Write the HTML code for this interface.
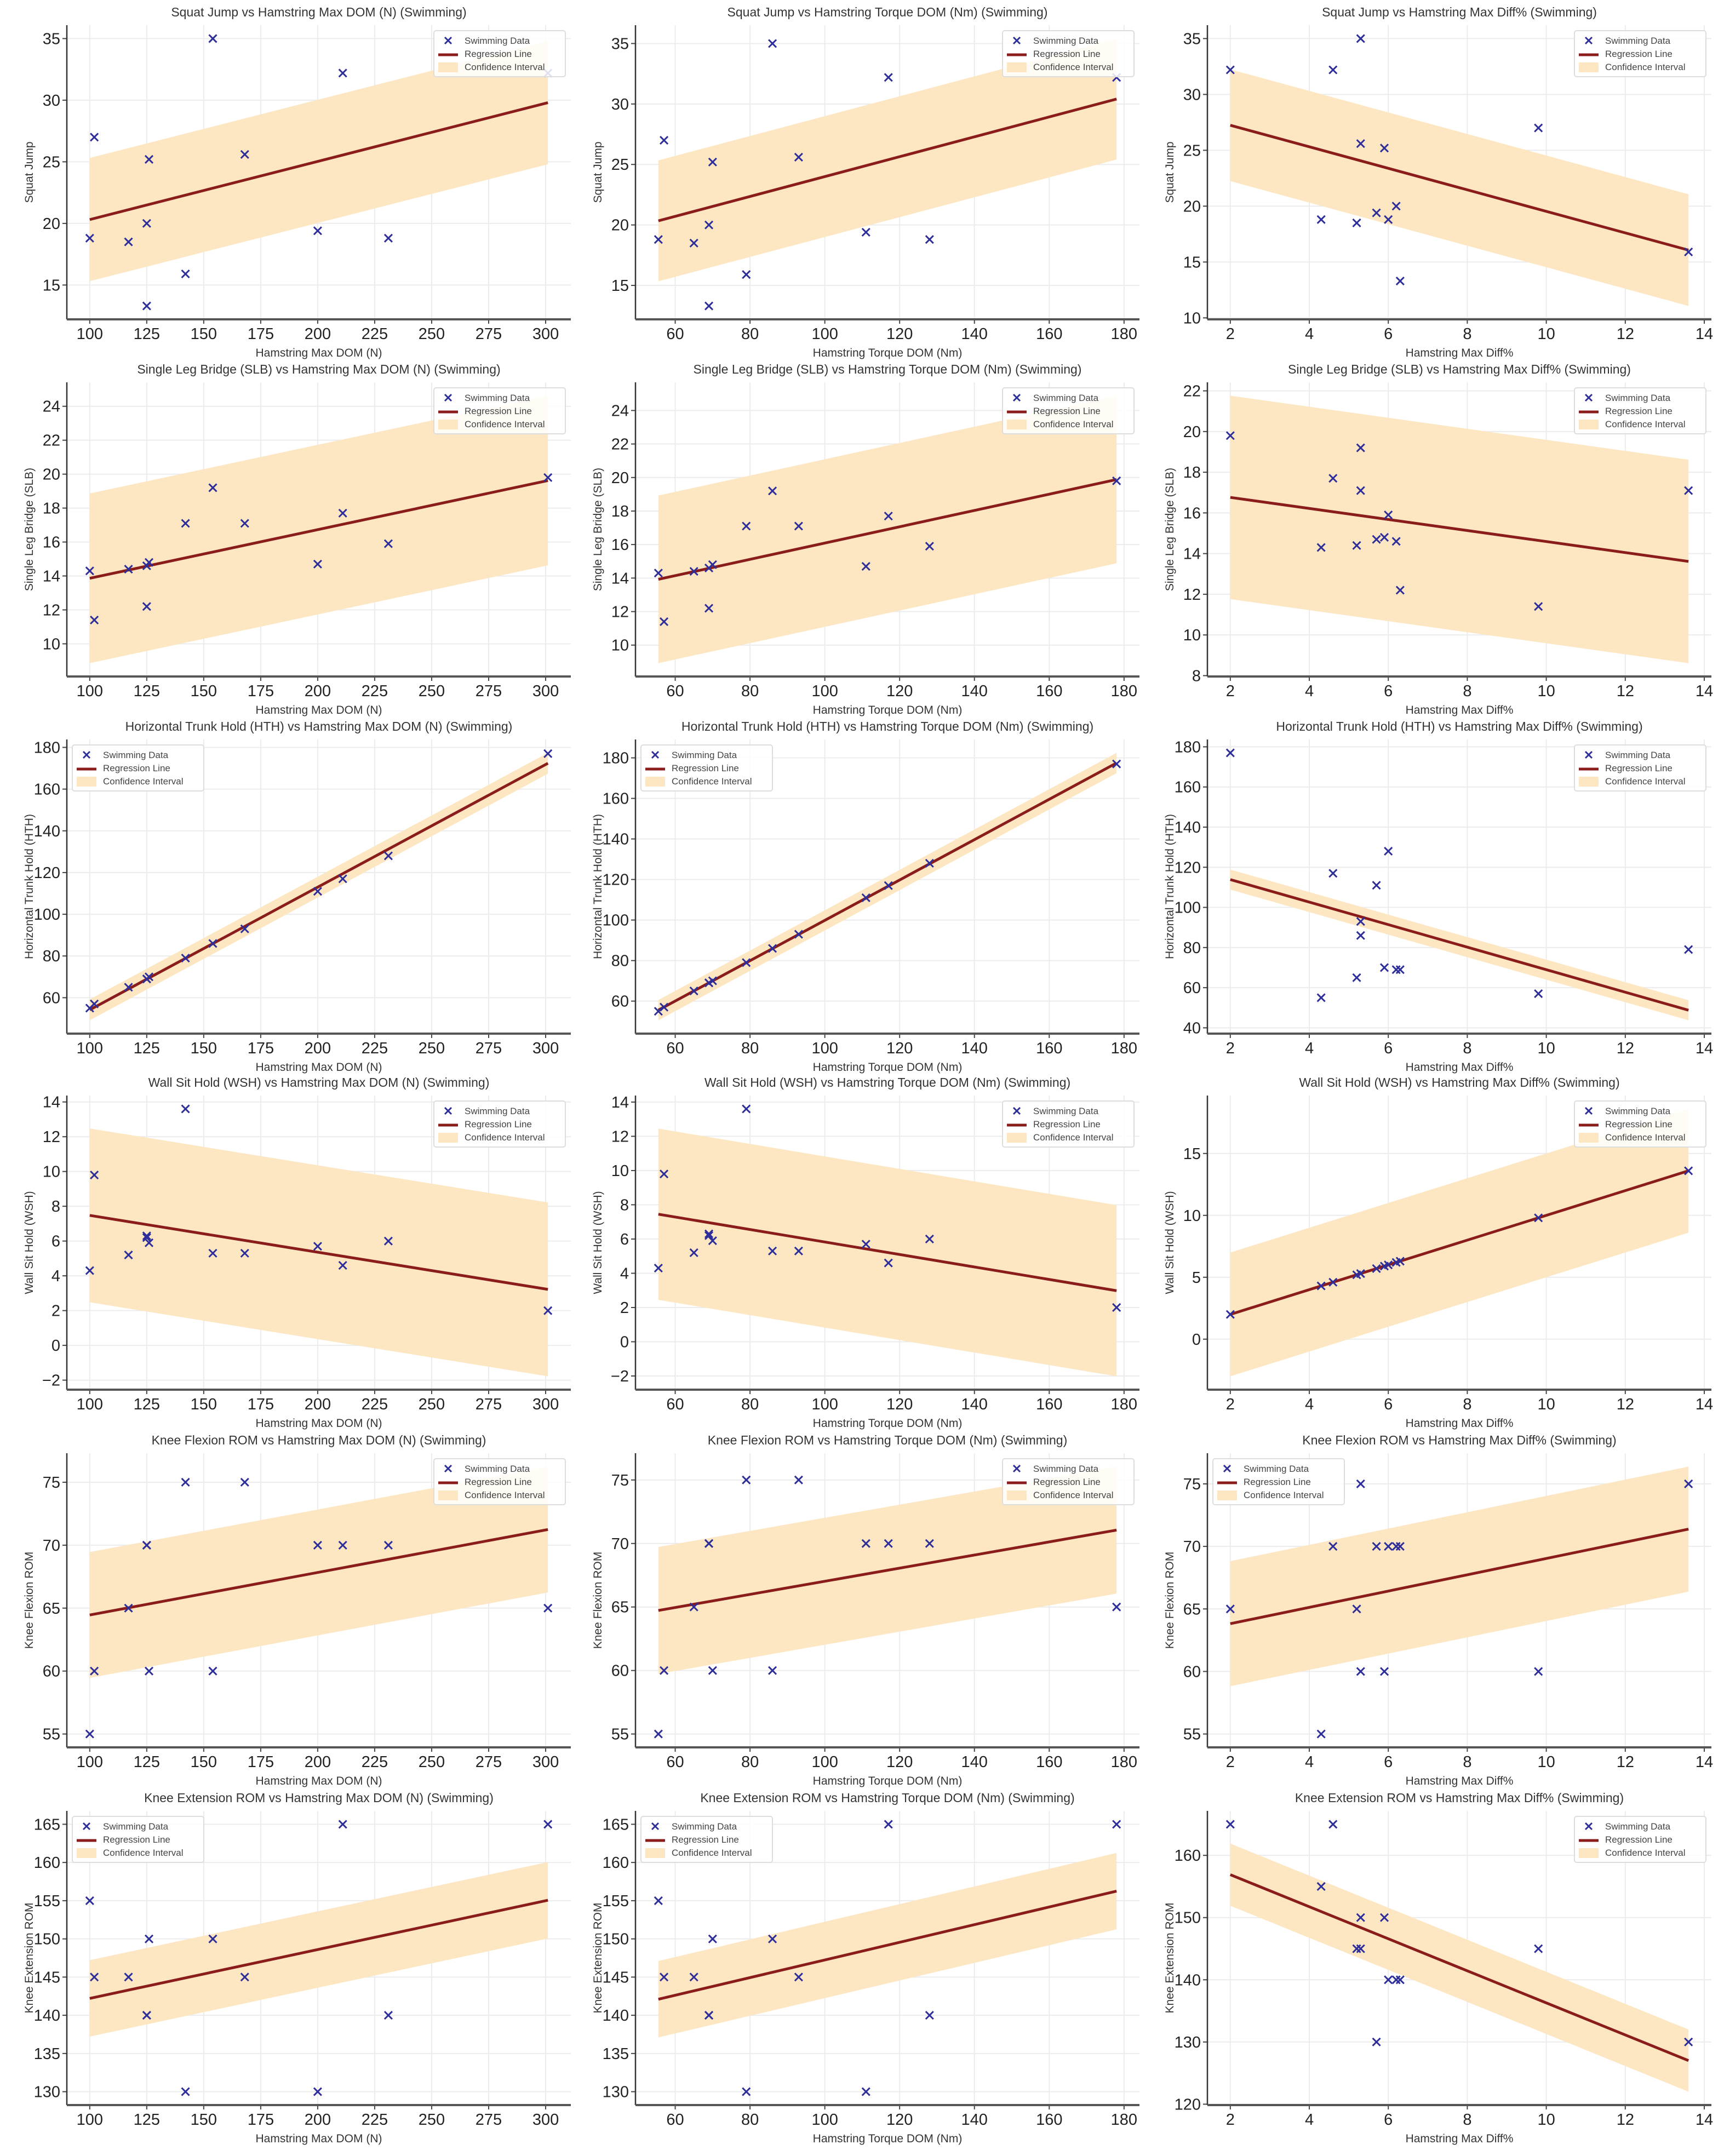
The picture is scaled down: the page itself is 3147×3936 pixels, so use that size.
<!DOCTYPE html>
<html><head><meta charset="utf-8">
<style>
html,body{margin:0;padding:0;background:#fff;}
svg{display:block;font-family:"Liberation Sans",sans-serif;}
</style></head>
<body>
<svg id="fig" width="3147" height="3936" viewBox="0 0 3147 3936" xmlns="http://www.w3.org/2000/svg"></svg>
<script>
// ---- data (one entry per swimmer) ----
const maxDom    = [100, 102, 117, 125, 125, 126, 142, 154, 168, 200, 211, 231, 301];
const torqueDom = [55.5, 57, 65, 69, 69, 70, 79, 86, 93, 111, 117, 128, 178];
const maxDiff   = [4.3, 9.8, 5.2, 6.3, 6.2, 5.9, 13.6, 5.3, 5.3, 5.7, 4.6, 6.0, 2.0];
const squatJump = [18.8, 27, 18.5, 13.3, 20, 25.2, 15.9, 35, 25.6, 19.4, 32.2, 18.8, 32.2];
const slb       = [14.3, 11.4, 14.4, 12.2, 14.6, 14.8, 17.1, 19.2, 17.1, 14.7, 17.7, 15.9, 19.8];
const hth       = [55, 57, 65, 69, 69, 70, 79, 86, 93, 111, 117, 128, 177];
const wsh       = [4.3, 9.8, 5.2, 6.3, 6.2, 5.9, 13.6, 5.3, 5.3, 5.7, 4.6, 6.0, 2.0];
const kneeFlex  = [55, 60, 65, 70, 70, 60, 75, 60, 75, 70, 70, 70, 65];
const kneeExt   = [155, 145, 145, 140, 140, 150, 130, 150, 145, 130, 165, 140, 165];
const ciHalf    = [5, 5, 5, 5, 5, 5];
const xNames    = ["Hamstring Max DOM (N)", "Hamstring Torque DOM (Nm)", "Hamstring Max Diff%"];
const xTitleNames = ["Hamstring Max DOM (N)", "Hamstring Torque DOM (Nm)", "Hamstring Max Diff% "];
const yNames    = ["Squat Jump", "Single Leg Bridge (SLB)", "Horizontal Trunk Hold (HTH)", "Wall Sit Hold (WSH)", "Knee Flexion ROM", "Knee Extension ROM"];
const xTickStep = [25, 20, 2];
const yTickSteps = [[5,5,5],[2,2,2],[20,20,20],[2,2,5],[5,5,5],[5,5,10]];
const legendLeft = [[0,0,0],[0,0,0],[1,1,0],[0,0,0],[0,0,1],[1,1,0]];

const xsAll = [maxDom, torqueDom, maxDiff];
const ysAll = [squatJump, slb, hth, wsh, kneeFlex, kneeExt];

// ---- layout ----
const colLeft = [122, 1160, 2204], PW = 920;
const rowTop = [46, 698, 1350, 2000, 2653, 3306], PH = 537;
const NS = "http://www.w3.org/2000/svg";
const svg = document.getElementById('fig');
function mk(tag, attrs, parent){ const e=document.createElementNS(NS,tag); for(const k in attrs) e.setAttribute(k,attrs[k]); (parent||svg).appendChild(e); return e; }
function fmt(v){ const r=Math.round(v*1000)/1000; return (Math.abs(r)<1e-9?0:r).toString().replace('-', '\u2212'); }

for(let r=0;r<6;r++){
  for(let c=0;c<3;c++){
    const xs=xsAll[c], ys=ysAll[r], n=xs.length;
    // least squares
    let mx=0,my=0; for(let i=0;i<n;i++){mx+=xs[i];my+=ys[i];} mx/=n; my/=n;
    let sxy=0,sxx=0; for(let i=0;i<n;i++){sxy+=(xs[i]-mx)*(ys[i]-my);sxx+=(xs[i]-mx)**2;}
    const b=sxy/sxx, a=my-b*mx;
    const x0=Math.min(...xs), x1=Math.max(...xs);
    const ci=ciHalf[r];
    const yl0=a+b*x0, yl1=a+b*x1;
    let ymin=Math.min(...ys, yl0-ci, yl1-ci), ymax=Math.max(...ys, yl0+ci, yl1+ci);
    const xr=x1-x0, yr=ymax-ymin;
    const xlo=x0-0.05*xr, xhi=x1+0.05*xr, ylo=ymin-0.05*yr, yhi=ymax+0.05*yr;
    const L=colLeft[c], T=rowTop[r];
    const sx=v=>L+(v-xlo)/(xhi-xlo)*PW;
    const sy=v=>T+PH-(v-ylo)/(yhi-ylo)*PH;

    const g=mk('g',{});
    
    

    // grid + ticks
    const xs0=xTickStep[c];
    for(let t=Math.ceil(xlo/xs0)*xs0;t<=xhi+1e-9;t+=xs0){
      const X=sx(t);
      mk('line',{x1:X,y1:T,x2:X,y2:T+PH,stroke:'#ececec','stroke-width':2},g);
      mk('line',{x1:X,y1:T+PH,x2:X,y2:T+PH+8,stroke:'#444','stroke-width':2},g);
      const tl=mk('text',{x:X,y:T+PH+36,'text-anchor':'middle','font-size':29,fill:'#222'},g);
      tl.textContent=fmt(t);
      
      
    }
    const ys0=yTickSteps[r][c];
    for(let t=Math.ceil(ylo/ys0)*ys0;t<=yhi+1e-9;t+=ys0){
      const Y=sy(t);
      mk('line',{x1:L,y1:Y,x2:L+PW,y2:Y,stroke:'#ececec','stroke-width':2},g);
      mk('line',{x1:L-8,y1:Y,x2:L,y2:Y,stroke:'#444','stroke-width':2},g);
      const tl=mk('text',{x:L-12,y:Y+10,'text-anchor':'end','font-size':29,fill:'#222'},g);
      tl.textContent=fmt(t);
      
      
    }

    // confidence band
    const band=mk('polygon',{points:`${sx(x0)},${sy(yl0+ci)} ${sx(x1)},${sy(yl1+ci)} ${sx(x1)},${sy(yl1-ci)} ${sx(x0)},${sy(yl0-ci)}`,fill:'#fde7c3'},g);
    
    
    // regression line
    const rl=mk('line',{x1:sx(x0),y1:sy(yl0),x2:sx(x1),y2:sy(yl1),stroke:'#8b1c1c','stroke-width':5},g);
    
    
    // points
    for(let i=0;i<n;i++){
      const X=sx(xs[i]),Y=sy(ys[i]),s=7;
      const p=mk('path',{d:`M${X-s},${Y-s}L${X+s},${Y+s}M${X-s},${Y+s}L${X+s},${Y-s}`,stroke:'#2e2e9a','stroke-width':3,fill:'none'},g);
      
      
    }
    // spines
    mk('line',{x1:L,y1:T,x2:L,y2:T+PH,stroke:'#333','stroke-width':2.5},g);
    mk('line',{x1:L,y1:T+PH,x2:L+PW,y2:T+PH,stroke:'#555','stroke-width':4},g);

    // title & labels
    const tt=mk('text',{x:L+PW/2,y:T-16,'text-anchor':'middle','font-size':23,fill:'#333'},g);
    tt.textContent=yNames[r]+' vs '+xTitleNames[c]+' (Swimming)';
    
    
    const xl=mk('text',{x:L+PW/2,y:T+PH+68,'text-anchor':'middle','font-size':21,fill:'#333'},g);
    xl.textContent=xNames[c];
    
    
    const yl=mk('text',{x:0,y:0,'text-anchor':'middle','font-size':21,fill:'#333',transform:`translate(${L-62},${T+PH/2}) rotate(-90)`},g);
    yl.textContent=yNames[r];
    
    

    // legend
    const lw=240, lh=84;
    const lx= legendLeft[r][c] ? L+10 : L+PW-lw-10, ly=T+10;
    const lg=mk('g',{},g);
    
    
    mk('rect',{x:lx,y:ly,width:lw,height:lh,rx:4,fill:'#fff','fill-opacity':0.85,stroke:'#ddd','stroke-width':2},lg);
    const mxk=lx+26;
    mk('path',{d:`M${mxk-6},${ly+12}L${mxk+6},${ly+24}M${mxk-6},${ly+24}L${mxk+6},${ly+12}`,stroke:'#2e2e9a','stroke-width':3},lg);
    mk('line',{x1:lx+8,y1:ly+44,x2:lx+44,y2:ly+44,stroke:'#8b1c1c','stroke-width':5},lg);
    mk('rect',{x:lx+8,y:ly+58,width:36,height:18,fill:'#fde7c3'},lg);
    const labels=['Swimming Data','Regression Line','Confidence Interval'];
    for(let k=0;k<3;k++){
      const t=mk('text',{x:lx+56,y:ly+24+k*24,'font-size':17,fill:'#444'},lg);
      t.textContent=labels[k];
      
      
    }
  }
}
</script>
</body></html>
